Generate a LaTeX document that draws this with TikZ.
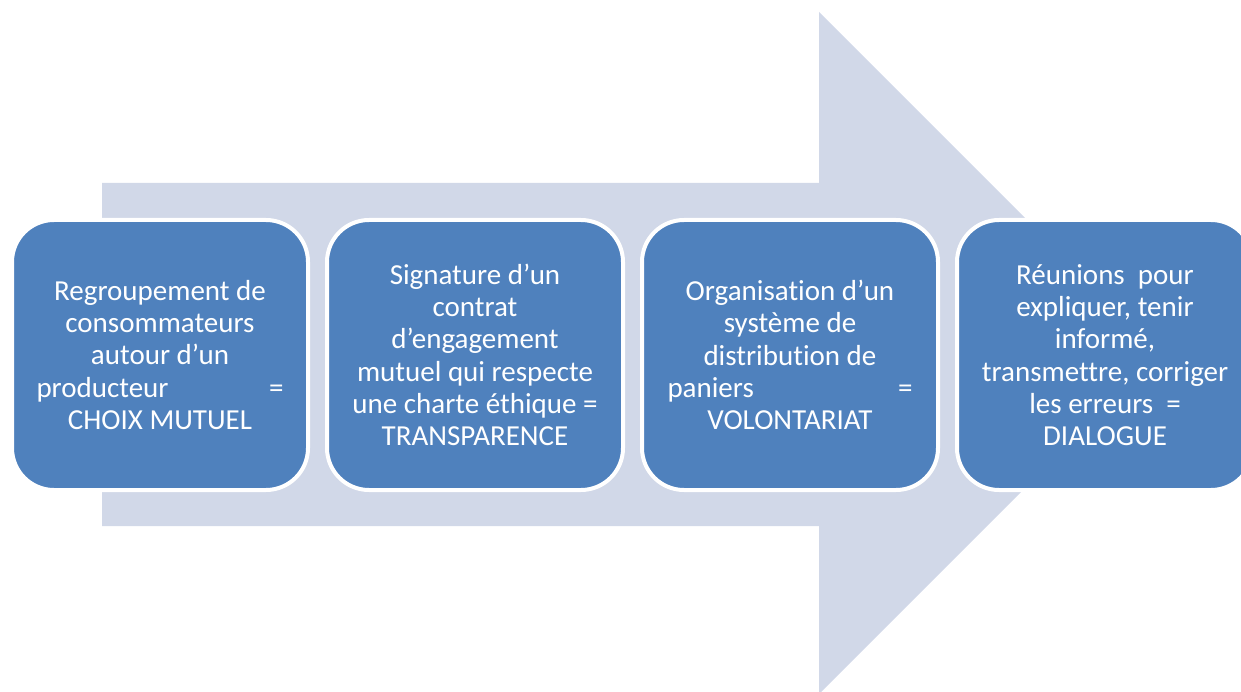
\documentclass[tikz,border=0pt]{standalone}
\usepackage{fontspec}
\setmainfont[Ligatures={NoCommon}]{Carlito}
\definecolor{arrowfill}{RGB}{209,216,232}
\definecolor{boxfill}{RGB}{79,129,189}
\begin{document}
\begin{tikzpicture}[x=1pt,y=-1pt,
  stepbox/.style={rectangle, rounded corners=42pt, fill=boxfill, draw=white,
    line width=4pt, minimum width=296pt, minimum height=270pt,
    text=white, align=center, inner sep=0pt,
    font=\fontsize{29}{32.3}\selectfont}]
\useasboundingbox (0,0) rectangle (1241,692);
\clip (0,0) rectangle (1241,692);
% big arrow
\fill[arrowfill] (102,183) -- (819,183) -- (819,12) -- (1160,353) -- (819,694)
  -- (819,526) -- (102,526) -- cycle;
\node[stepbox] (b1) at (160,355) {Regroupement de\\consommateurs\\autour d’un\\\makebox[247pt]{producteur\hfill=}\\CHOIX MUTUEL};
\node[stepbox] (b2) at (475,355) {Signature d’un\\contrat\\d’engagement\\mutuel qui respecte\\une charte éthique =\\TRANSPARENCE};
\node[stepbox] (b3) at (790,355) {Organisation d’un\\système de\\distribution de\\\makebox[245pt]{paniers\hfill=}\\VOLONTARIAT};
\node[stepbox] (b4) at (1105,355) {Réunions\ \ pour\\expliquer, tenir\\informé,\\transmettre, corriger\\les erreurs\ \ =\\DIALOGUE};
\end{tikzpicture}
\end{document}
